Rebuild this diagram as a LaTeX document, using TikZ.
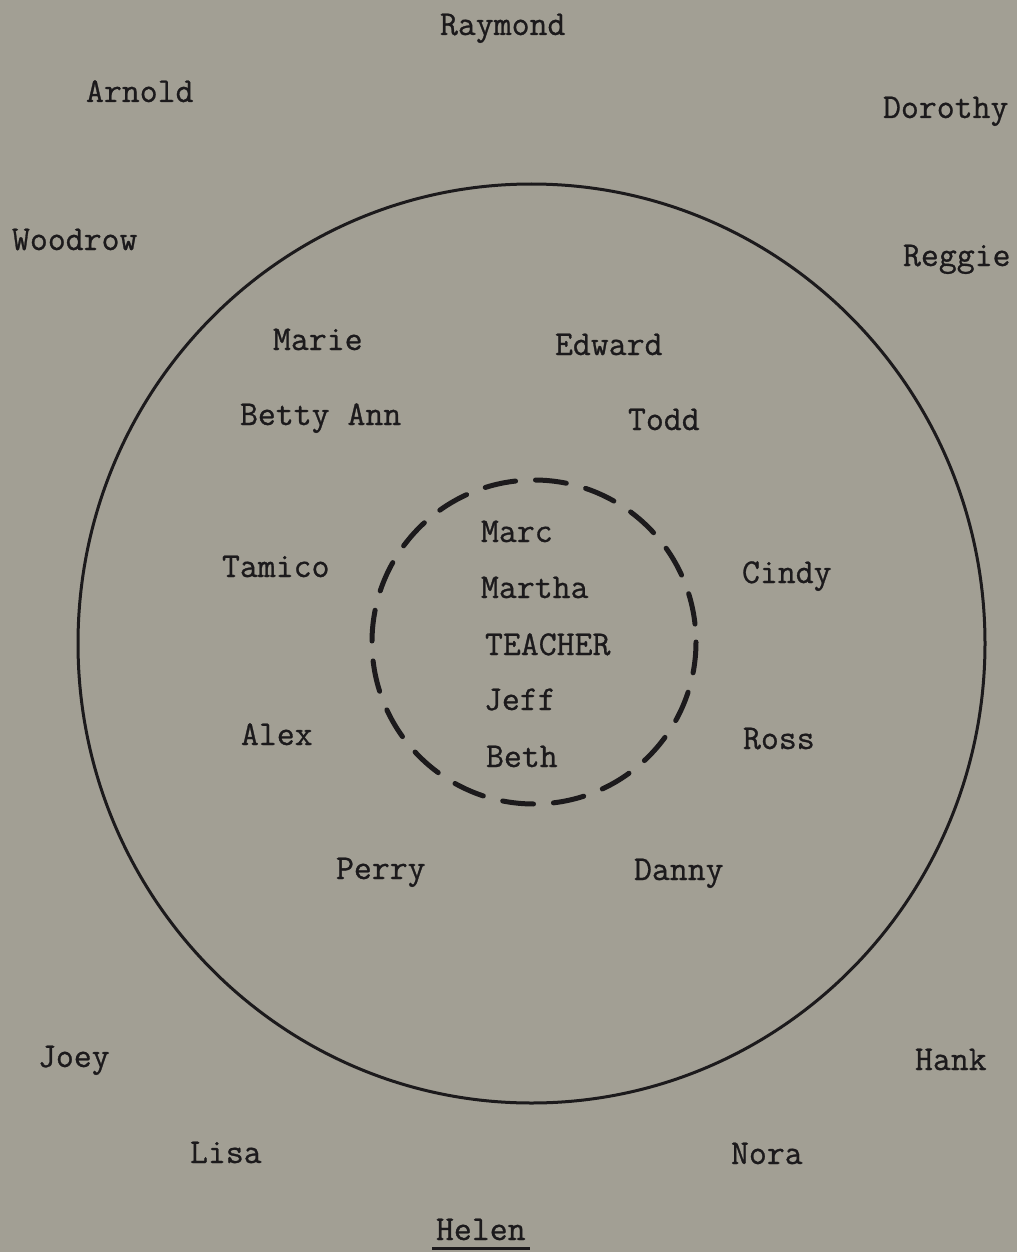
\documentclass[tikz,border=0pt]{standalone}
\usepackage{fontspec}
\newfontfamily\typew{Latin Modern Mono}[FakeBold=0.8]
\definecolor{paper}{RGB}{162,159,148}
\definecolor{ink}{RGB}{28,26,28}
\tikzset{
  pname/.style={anchor=base west, inner sep=0pt, outer sep=0pt, text=ink,
    font=\typew\fontsize{34.8}{35}\selectfont},
  ring/.style={draw=ink, line width=3pt},
  innerring/.style={draw=ink, line width=5pt, dash pattern=on 31pt off 20pt, line cap=round},
  uline/.style={draw=ink, line width=3pt}
}
\begin{document}
\begin{tikzpicture}[x=1pt,y=-1pt]
\fill[paper] (0,0) rectangle (1017,1252);
\useasboundingbox (0,0) rectangle (1017,1252);
\draw[ring] (531.5,643.5) ellipse [x radius=453.5, y radius=459.5];
\draw[innerring] (534,642) circle [radius=162];
% outer names
\node[pname] (raymond) at (440,35) {Raymond};
\node[pname] (arnold) at (86,102) {Arnold};
\node[pname] (dorothy) at (883,118) {Dorothy};
\node[pname] (woodrow) at (12,250) {Woodrow};
\node[pname] (reggie) at (903,266) {Reggie};
\node[pname] (joey) at (38,1067) {Joey};
\node[pname] (hank) at (915,1070) {Hank};
\node[pname] (lisa) at (190,1163) {Lisa};
\node[pname] (nora) at (731,1164) {Nora};
\node[pname] (helen) at (436,1240) {Helen};
\coordinate (ulA) at (432,1248);
\coordinate (ulB) at (530,1248);
\draw[uline] (ulA) -- (ulB);
% middle ring
\node[pname] (marie) at (273,350) {Marie};
\node[pname] (edward) at (555,355) {Edward};
\node[pname] (bettyann) at (240,425) {Betty Ann};
\node[pname] (todd) at (628,430) {Todd};
\node[pname] (tamico) at (222,577) {Tamico};
\node[pname] (cindy) at (742,583) {Cindy};
\node[pname] (alex) at (241,745) {Alex};
\node[pname] (ross) at (743,749) {Ross};
\node[pname] (perry) at (336,879) {Perry};
\node[pname] (danny) at (634,880) {Danny};
% inner
\node[pname] (marc) at (481,542) {Marc};
\node[pname] (martha) at (481,598) {Martha};
\node[pname] (teacher) at (485,655) {TEACHER};
\node[pname] (jeff) at (484,710) {Jeff};
\node[pname] (beth) at (486,767) {Beth};
\end{tikzpicture}
\end{document}
